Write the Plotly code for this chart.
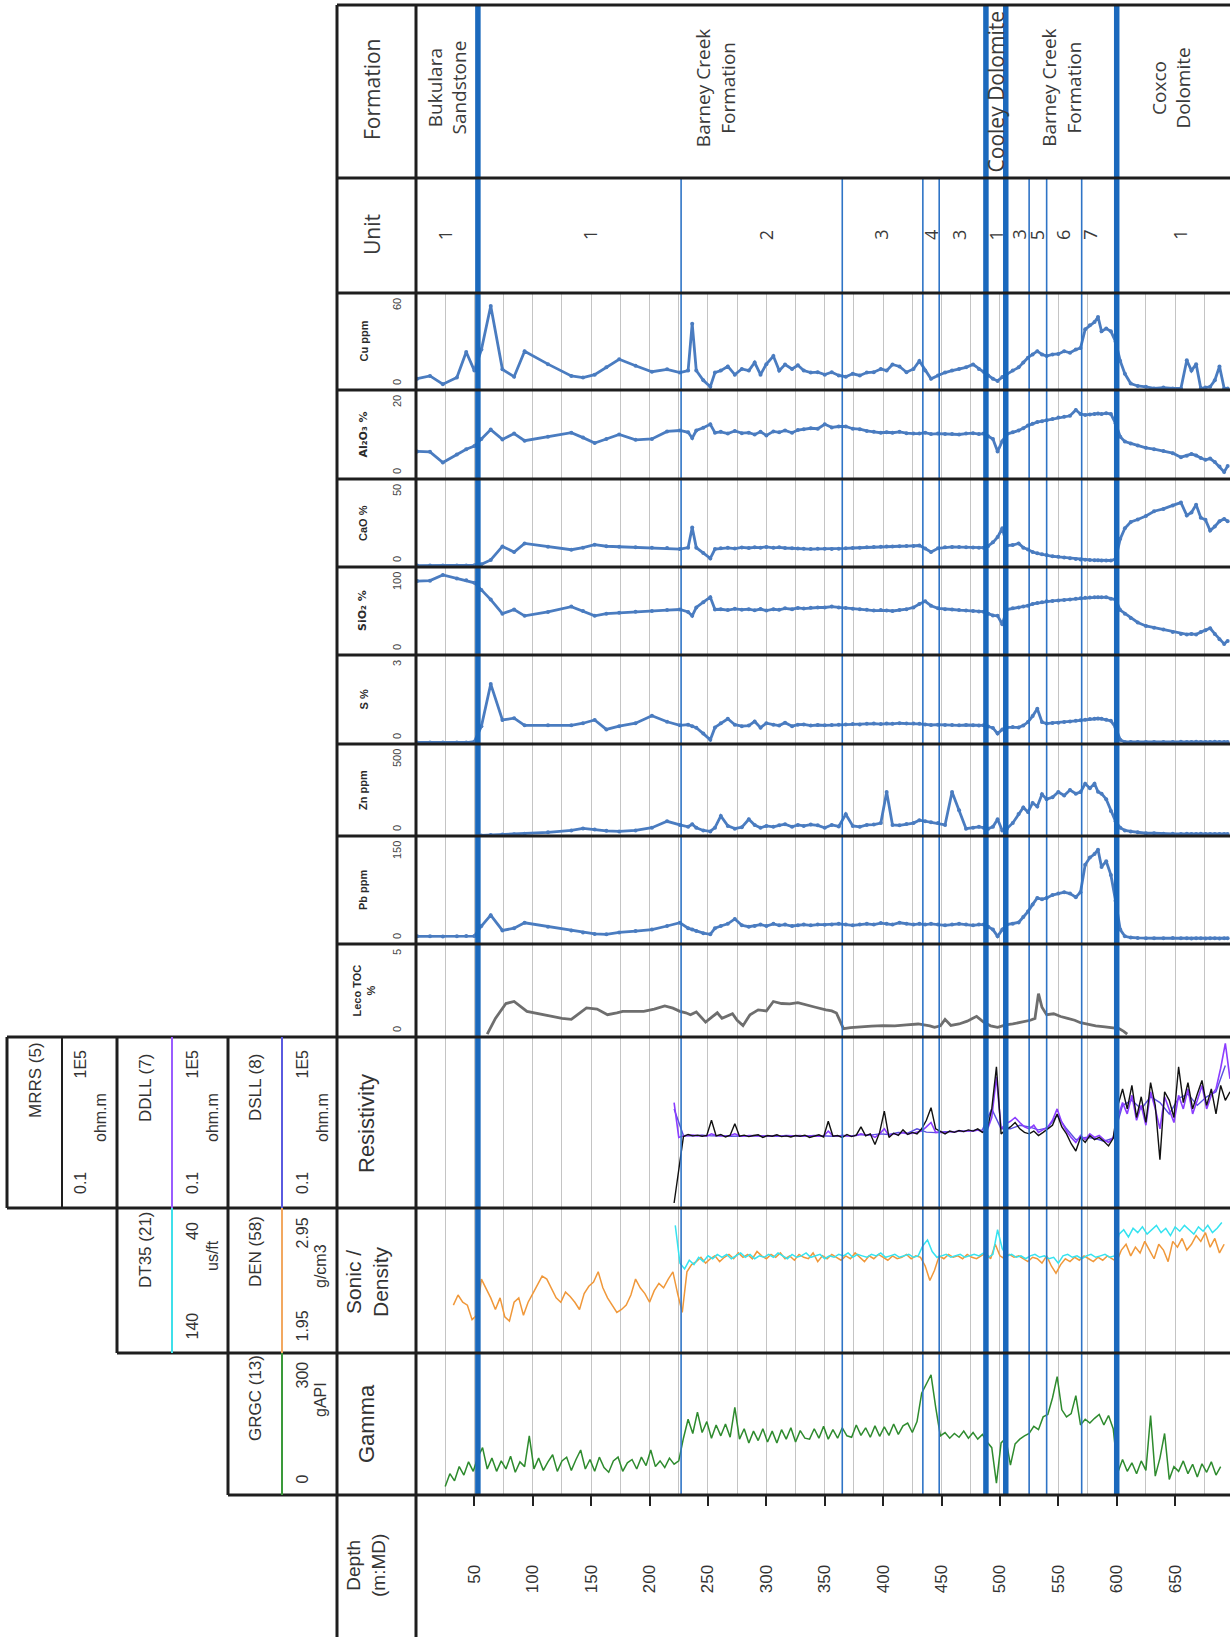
import plotly.graph_objects as go

W, H = 1230, 1637

# ------------------------------------------------------------------ data
depth_ticks = [50, 100, 150, 200, 250, 300, 350, 400, 450, 500, 550, 600, 650]
depth_tick_text = [str(v) for v in depth_ticks]

formation_tops = [53, 488, 505, 600]
unit_tops = [227, 365, 434, 448, 525, 540, 570]
formation_names = ["Bukulara<br>Sandstone", "Barney Creek<br>Formation", "Cooley Dolomite",
                   "Barney Creek<br>Formation", "Coxco<br>Dolomite"]
formation_label_depth = [27, 257, 497, 553, 647]
unit_names = ["1", "1", "2", "3", "4", "3", "1", "3", "5", "6", "7", "1"]
unit_label_depth = [25, 149, 300, 398, 441, 465, 497, 516, 532, 554, 577, 654]

# geochemistry samples (shared depths, m)
geo_depth = [1, 12, 23, 35, 43, 50, 56, 64, 74, 84,
             93, 113, 133, 143, 153, 163, 174, 188, 202, 215,
             226, 233, 236.5, 240, 246, 252, 256, 261, 267, 273,
             279, 285, 290, 295, 300, 306, 311, 316, 322, 327,
             332, 338, 344, 350, 356, 362, 368, 374, 380, 386,
             392, 398, 403, 408, 414, 420, 426, 431, 436, 441,
             447, 453, 459, 465, 471, 477, 482, 486, 490, 494,
             498, 502, 506, 511, 516, 520, 524, 528, 532, 536,
             540, 545, 550, 555, 560, 565, 569, 573, 577, 581,
             584, 587, 591, 595, 599, 603, 607, 612, 618, 625,
             632, 640, 648, 655, 660, 664, 668, 672, 676, 680,
             684, 688, 692, 695]
cu_ppm = [7, 8.7, 3.6, 7.7, 23.5, 12, 25, 52, 12.8, 8.2,
          24, 16, 8.7, 7.7, 9.5, 14, 19, 15, 11.3, 12.8,
          10.8, 12, 41, 12, 6, 2, 10.8, 12, 14.6, 9.5,
          13, 12, 17, 9.5, 16, 21, 12, 15.8, 13, 15.3,
          12, 10.8, 11, 9.5, 11, 9, 8.2, 10, 9, 10.8,
          11, 13, 12, 15.8, 14.6, 11, 13, 17.9, 12, 6.9,
          9, 10.8, 12, 13, 14, 15.8, 13, 11.3, 9, 7,
          5.6, 8, 10, 12, 14, 17, 20, 22, 24, 22,
          21, 22, 22.3, 24, 23, 25, 26, 37.5, 40, 42,
          45.2, 36.3, 38, 36.3, 30, 18, 10, 4, 2.5, 2,
          1, 1.5, 1, 1, 18.4, 12, 16, 1, 1.5, 2,
          6, 14.6, 1, 1]
al2o3_pct = [6.2, 6.1, 3.7, 5.5, 6.7, 7.4, 9, 11.1, 8.9, 10.2,
             8.6, 9.5, 10.4, 9.3, 8.1, 9, 10, 8.8, 9, 10.7,
             10.9, 10.5, 9.2, 10.9, 11.5, 12.3, 10.4, 10.6, 10.2, 10.8,
             10.3, 10.4, 10, 10.6, 9.8, 10.7, 10.5, 10.9, 10.4, 11,
             11.2, 11.4, 11.3, 12.3, 11.6, 11.8, 11.8, 11.3, 11.2, 10.8,
             10.6, 10.4, 10.5, 10.4, 10.6, 10.3, 10.2, 10.2, 10.4, 10.1,
             10.2, 10.1, 10.1, 10, 10.2, 10.3, 10.1, 10.2, 9.6, 9,
             6.2, 8.5, 10.1, 10.5, 10.9, 11.4, 12, 12.4, 12.8, 13,
             13.2, 13.5, 13.8, 14, 14.2, 15.5, 14.6, 14.4, 14.5, 14.6,
             14.7, 14.6, 14.8, 14.6, 12.5, 9.5, 8.4, 8, 7.5, 7,
             6.7, 6.3, 5.8, 4.9, 5.2, 5.6, 5.3, 4.7, 4.3, 4.6,
             3.8, 2.8, 1.6, 2.9]
cao_pct = [0.8, 0.8, 0.9, 0.8, 0.9, 1, 1.5, 4, 11.7, 8.5,
           13.4, 11.5, 9.8, 11, 12.7, 11.8, 11.5, 11.2, 11, 10.8,
           10.2, 11, 22.4, 11, 8, 4.9, 10.2, 10.6, 10.9, 10.5,
           11.1, 10.8, 11.2, 11, 11.4, 10.9, 11.2, 10.8, 10.6, 10.5,
           10.4, 10.2, 10.3, 10.3, 10.2, 10.4, 10.6, 10.8, 11, 11.2,
           11.4, 11.5, 11.6, 11.7, 11.8, 11.9, 12, 12.2, 10.5, 8.5,
           10.6, 11.2, 11.4, 11.3, 11.2, 11.1, 11, 11, 12, 14,
           17, 22, 12.2, 12.5, 13.4, 11, 10, 8.5, 7.8, 7.2,
           6.8, 6.1, 5.8, 5.4, 5, 4.6, 4.3, 4.1, 4, 3.9,
           3.8, 3.7, 3.7, 3.7, 4.5, 16, 22, 25.6, 27, 29,
           31.7, 33, 35, 36.6, 29.3, 31, 35.4, 28, 26.8, 20.7,
           23, 26, 27.3, 26]
sio2_pct = [84, 84.5, 91, 87, 85, 82, 74, 63, 47, 51.7,
            44.5, 49, 55, 50, 44.5, 47, 48, 49.2, 50, 51,
            51.7, 49, 44.5, 54, 60, 65.7, 51.7, 52, 51, 52.5,
            51.5, 52, 50.8, 52.2, 50.5, 52, 51.4, 53, 52, 53.5,
            52.8, 53.6, 54, 54, 55, 54, 53.5, 52.5, 52, 51.3,
            50.5, 51, 50.7, 50, 51, 52, 54, 58, 61, 56,
            53, 52, 51.7, 51, 50.5, 50, 49.5, 49.2, 47, 45,
            44.5, 35, 51.7, 53, 54, 55, 56, 58, 59, 60,
            61, 61.5, 62, 62.5, 63, 64, 64.5, 65, 65.3, 65.7,
            65.7, 65.5, 65.7, 64, 63, 51, 47, 42, 37, 33,
            31, 29, 26, 24, 23.4, 24, 23.4, 26, 28, 30.4,
            24, 18, 12.6, 16]
s_pct = [0.05, 0.05, 0.05, 0.05, 0.05, 0.08, 0.6, 2.02, 0.81, 0.87,
         0.63, 0.63, 0.63, 0.7, 0.81, 0.49, 0.6, 0.7, 0.95, 0.75,
         0.63, 0.65, 0.6, 0.55, 0.35, 0.14, 0.56, 0.7, 0.85, 0.65,
         0.6, 0.62, 0.76, 0.55, 0.7, 0.65, 0.62, 0.72, 0.6, 0.65,
         0.66, 0.62, 0.64, 0.63, 0.64, 0.65, 0.66, 0.67, 0.66, 0.68,
         0.69, 0.67, 0.69, 0.68, 0.7, 0.69, 0.69, 0.68, 0.66, 0.64,
         0.65, 0.64, 0.64, 0.63, 0.64, 0.63, 0.62, 0.63, 0.59, 0.54,
         0.35, 0.49, 0.56, 0.57, 0.56, 0.62, 0.74, 0.94, 1.19, 0.74,
         0.69, 0.71, 0.72, 0.74, 0.76, 0.78, 0.8, 0.82, 0.84, 0.85,
         0.86, 0.85, 0.82, 0.78, 0.56, 0.14, 0.07, 0.07, 0.07, 0.07,
         0.07, 0.07, 0.07, 0.08, 0.07, 0.07, 0.08, 0.07, 0.07, 0.07,
         0.08, 0.07, 0.07, 0.07]
zn_ppm = [None, None, None, None, None, None, 3, 5, 8, 10,
          12, 20, 30, 41, 35, 28, 25, 30, 45, 80,
          60, 50, 64, 45, 30, 25, 45, 109, 55, 40,
          48, 91, 60, 45, 55, 50, 58, 64, 50, 60,
          55, 62, 58, 45, 60, 52, 118, 55, 50, 60,
          62, 70, 239, 60, 58, 65, 70, 86, 80, 75,
          70, 60, 239, 140, 40, 45, 50, 45, 40, 50,
          91, 30, 40, 71, 120, 155, 130, 180, 160, 227,
          200, 210, 239, 220, 250, 230, 239, 284, 260, 284,
          240, 230, 200, 136, 80, 45, 30, 25, 20, 15,
          15, 12, 12, 11, 12, 11, 11, 12, 11, 11,
          11, 11, 11, 11]
pb_ppm = [10.7, 10.7, 10.5, 10.7, 11, 11, 25, 40, 18.8, 22,
          29.5, 24, 18.8, 16, 14, 13.4, 16, 18, 20, 25,
          29.5, 22, 20, 18, 15, 13.4, 22, 25, 28, 34.8,
          26, 24, 25, 27, 25, 28, 26, 27, 25, 26,
          27, 26, 27, 26.8, 27, 28, 27, 26, 27, 28,
          27, 29, 28, 27, 29.5, 28, 27, 28, 27, 28,
          27, 26, 27, 28, 27, 26, 27, 27, 24, 20,
          10.7, 20, 27, 28, 30, 37.5, 45, 55, 64, 62,
          64, 68, 70, 72, 70, 65, 72, 110, 120, 125,
          131, 107, 115, 96, 60, 20, 10.7, 9, 8.5, 8,
          8, 8, 8.5, 8, 8, 7.5, 8, 8, 7.5, 8,
          8, 7.5, 8, 8]

toc_depth = [61, 68, 77, 84, 95, 105, 115, 125, 133, 140,
             146, 155, 164, 172, 177, 186, 195, 204, 213, 220,
             226, 231, 235, 240, 245, 248, 253, 258, 262, 266,
             271, 275, 280, 286, 293, 300, 306, 313, 320, 327,
             335, 342, 351, 356, 360, 366, 372, 380, 390, 400,
             410, 420, 430, 440, 444, 449, 453, 458, 465, 472,
             480, 486, 492, 498, 505, 511, 518, 526, 530, 533,
             536, 540, 546, 552, 558, 564, 569, 575, 582, 590,
             596, 602, 606, 609]
toc_pct = [0.15, 1.0, 1.8, 1.91, 1.38, 1.25, 1.15, 1.0, 0.95, 1.3,
           1.56, 1.5, 1.2, 1.3, 1.38, 1.38, 1.38, 1.5, 1.67, 1.55,
           1.38, 1.3, 1.2, 1.35, 1.0, 0.8, 1.05, 1.3, 1.0, 1.11,
           1.25, 0.9, 0.61, 1.2, 1.46, 1.4, 1.91, 1.8, 1.78, 1.85,
           1.7, 1.6, 1.46, 1.4, 1.29, 0.45, 0.5, 0.55, 0.58, 0.61,
           0.6, 0.65, 0.7, 0.6, 0.52, 0.6, 0.95, 0.62, 0.7, 0.85,
           1.11, 0.8, 0.6, 0.52, 0.65, 0.7, 0.8, 0.9, 1.0, 2.33,
           1.6, 1.2, 1.25, 1.1, 1.0, 0.9, 0.77, 0.7, 0.6, 0.55,
           0.52, 0.45, 0.3, 0.15]

# resistivity logs (ohm.m), MRRS / DDLL sampled every 4 m from 221 m, DSLL every 8 m
res_start, res_step, dsll_step = 221, 4, 8
mrrs = [0.15, 2, 32, 38, 34, 36, 33, 35, 120, 34,
        38, 31, 36, 90, 33, 36, 32, 35, 37, 30,
        35, 33, 37, 32, 34, 31, 35, 33, 36, 30,
        34, 37, 31, 110, 33, 35, 30, 38, 32, 36,
        70, 34, 40, 17, 45, 250, 30, 42, 35, 55,
        38, 45, 40, 60, 120, 330, 60, 48, 40, 50,
        45, 52, 48, 55, 50, 60, 45, 55, 300, 9000,
        40, 55, 70, 100, 60, 45, 40, 50, 35, 45,
        60, 80, 200, 70, 40, 18, 10, 30, 20, 35,
        25, 30, 22, 15, 28, 400, 1500, 300, 2000, 150,
        800, 100, 2500, 400, 5, 1200, 600, 150, 9000, 500,
        2500, 300, 1000, 3000, 400, 1500, 200, 2000, 600, 1200]
ddll = [500, 30, 34, 35, 36, 34, 35, 33, 40, 35,
        34, 33, 35, 40, 34, 33, 35, 34, 33, 34,
        33, 34, 35, 33, 34, 33, 34, 35, 33, 34,
        35, 34, 33, 50, 34, 33, 35, 34, 33, 35,
        40, 36, 38, 30, 40, 60, 35, 40, 38, 45,
        40, 42, 45, 50, 70, 100, 45, 46, 44, 48,
        47, 50, 49, 52, 50, 55, 48, 52, 150, 4000,
        60, 90, 110, 150, 100, 70, 60, 80, 45, 55,
        70, 120, 300, 100, 50, 30, 20, 35, 25, 40,
        30, 35, 25, 20, 30, 150, 500, 200, 900, 120,
        400, 80, 1200, 300, 60, 800, 300, 100, 900, 300,
        1500, 200, 600, 2000, 300, 900, 1500, 8000, 60000, 3400]
dsll = [300, 35, 34, 36, 34, 35, 33, 34, 35, 34,
        34, 33, 35, 34, 33, 35, 34, 33, 35, 34,
        38, 36, 40, 38, 45, 42, 60, 46, 44, 48,
        48, 50, 52, 55, 300, 60, 60, 80, 70, 55,
        65, 180, 60, 25, 30, 28, 22, 28, 400, 600,
        300, 800, 500, 200, 700, 1000, 400, 800, 1200, 10000]

# sonic (us/ft) every 4 m from 222 m
dt_start = 222
dt35 = [52, 78, 82, 76, 79, 74, 77, 73, 75, 72,
        74, 72, 75, 73, 71, 74, 72, 75, 73, 74,
        72, 74, 71, 73, 75, 72, 74, 73, 71, 74,
        73, 72, 75, 73, 74, 72, 73, 71, 74, 72,
        73, 74, 72, 73, 71, 74, 73, 72, 74, 73,
        72, 74, 73, 66, 62, 70, 74, 73, 72, 74,
        73, 72, 74, 73, 72, 73, 71, 74, 72, 55,
        68, 73, 72, 74, 73, 75, 73, 72, 74, 73,
        75, 74, 78, 73, 72, 74, 73, 75, 73, 72,
        74, 73, 72, 74, 73, 58, 55, 60, 54, 57,
        53, 58, 55, 52, 57, 54, 59, 53, 56, 52,
        55, 58, 53, 56, 52, 57, 54, 50]

# density (g/cm3) every 4 m from 32 m
den_start = 32
den = [2.28, 2.35, 2.30, 2.28, 2.18, 2.21, 2.46, 2.40, 2.33, 2.25,
       2.33, 2.20, 2.17, 2.30, 2.33, 2.21, 2.30, 2.36, 2.42, 2.48,
       2.46, 2.40, 2.33, 2.30, 2.37, 2.34, 2.30, 2.25, 2.36, 2.41,
       2.44, 2.51, 2.40, 2.33, 2.28, 2.23, 2.25, 2.28, 2.35, 2.46,
       2.40, 2.36, 2.30, 2.38, 2.43, 2.40, 2.46, 2.51, 2.36, 2.23,
       2.51, 2.56, 2.58, 2.61, 2.57, 2.60, 2.62, 2.58, 2.61, 2.63,
       2.60, 2.64, 2.61, 2.63, 2.60, 2.65, 2.62, 2.60, 2.63, 2.61,
       2.64, 2.60, 2.62, 2.59, 2.63, 2.61, 2.60, 2.64, 2.58, 2.62,
       2.60, 2.63, 2.61, 2.59, 2.62, 2.60, 2.64, 2.61, 2.58, 2.62,
       2.60, 2.63, 2.61, 2.59, 2.62, 2.60, 2.61, 2.63, 2.60, 2.62,
       2.61, 2.55, 2.45, 2.52, 2.62, 2.60, 2.63, 2.61, 2.62, 2.60,
       2.63, 2.61, 2.60, 2.62, 2.64, 2.60, 2.70, 2.62, 2.60, 2.63,
       2.61, 2.62, 2.60, 2.58, 2.61, 2.60, 2.57, 2.62, 2.55, 2.50,
       2.56, 2.60, 2.58, 2.61, 2.59, 2.62, 2.60, 2.58, 2.61, 2.59,
       2.62, 2.60, 2.58, 2.66, 2.70, 2.62, 2.68, 2.64, 2.72, 2.66,
       2.60, 2.70, 2.66, 2.58, 2.72, 2.68, 2.74, 2.66, 2.70, 2.76,
       2.72, 2.78, 2.68, 2.74, 2.64, 2.70]

# gamma (gAPI) every 4 m from 25 m
gr_start = 25
grgc = [18, 45, 30, 60, 42, 70, 50, 80, 100, 55,
        78, 50, 72, 55, 82, 48, 70, 60, 125, 55,
        78, 52, 70, 85, 50, 72, 80, 52, 75, 95,
        55, 75, 50, 80, 58, 48, 72, 80, 50, 68,
        75, 55, 80, 62, 95, 60, 72, 58, 78, 65,
        72, 120, 160, 130, 175, 132, 155, 120, 148, 125,
        150, 122, 185, 118, 140, 110, 135, 115, 140, 112,
        135, 110, 138, 118, 142, 112, 136, 120, 118, 140,
        120, 145, 118, 138, 120, 142, 125, 122, 148, 126,
        142, 122, 146, 124, 144, 126, 150, 128, 146, 152,
        132, 155, 215, 235, 254, 185, 125, 132, 120, 130,
        122, 135, 120, 132, 118, 128, 112, 100, 25, 110,
        120, 63, 108, 118, 125, 130, 145, 138, 165, 170,
        205, 250, 180, 165, 172, 210, 148, 160, 152, 162,
        170, 148, 168, 140, 48, 75, 50, 68, 45, 72,
        52, 168, 40, 78, 130, 33, 60, 50, 72, 45,
        65, 38, 66, 48, 70, 42, 60]

res_depth = [res_start + res_step * i for i in range(len(mrrs))]
dsll_depth = [res_start + dsll_step * i for i in range(len(dsll))]
dt_depth = [dt_start + 4 * i for i in range(len(dt35))]
den_depth = [den_start + 4 * i for i in range(len(den))]
gr_depth = [gr_start + 4 * i for i in range(len(grgc))]

geo_labels = ["Cu ppm", "Al\u2082O\u2083 %", "CaO %", "SiO\u2082 %",
              "S %", "Zn ppm", "Pb ppm", "Leco TOC<br>%"]
geo_max = [60, 20, 50, 100, 3, 500, 150, 5]

# ------------------------------------------------------------------ layout helpers
def X(p):
    return p / W


def Y(p):
    return 1 - p / H


# track rows in pixels (top, bottom)
ROWS = [(293, 390), (390, 479), (479, 567), (567, 655), (655, 744), (744, 836),
        (836, 944), (944, 1037), (1037, 1208), (1208, 1353), (1353, 1495)]
TABLE_L, LABEL_R, TABLE_T = 337, 416, 5
GEO_BLUE = "#4a7cc0"
BND_BLUE = "#1b69bd"
FRAME = "#1e1e1e"
SANS = "Liberation Sans, Arial, sans-serif"
SEGOE = "Open Sans, sans-serif"

fig = go.Figure()

geo_series = [cu_ppm, al2o3_pct, cao_pct, sio2_pct, s_pct, zn_ppm, pb_ppm]
for i, vals in enumerate(geo_series):
    fig.add_trace(go.Scatter(x=geo_depth, y=vals, mode="lines+markers",
                             line=dict(color=GEO_BLUE, width=2.8),
                             marker=dict(size=4, color=GEO_BLUE),
                             yaxis="y" if i == 0 else f"y{i + 1}", showlegend=False))
fig.add_trace(go.Scatter(x=toc_depth, y=toc_pct, mode="lines",
                         line=dict(color="#6e6e6e", width=2.8), yaxis="y8", showlegend=False))
fig.add_trace(go.Scatter(x=dsll_depth, y=dsll, mode="lines",
                         line=dict(color="#5a4fe0", width=1.4), yaxis="y9", showlegend=False))
fig.add_trace(go.Scatter(x=res_depth, y=ddll, mode="lines",
                         line=dict(color="#8b3dff", width=1.6), yaxis="y9", showlegend=False))
fig.add_trace(go.Scatter(x=res_depth, y=mrrs, mode="lines",
                         line=dict(color="#111111", width=1.4), yaxis="y9", showlegend=False))
fig.add_trace(go.Scatter(x=den_depth, y=den, mode="lines",
                         line=dict(color="#f0983a", width=1.5), yaxis="y10", showlegend=False))
fig.add_trace(go.Scatter(x=dt_depth, y=dt35, mode="lines",
                         line=dict(color="#35e3f0", width=1.5), yaxis="y11", showlegend=False))
fig.add_trace(go.Scatter(x=gr_depth, y=grgc, mode="lines",
                         line=dict(color="#2e8b2e", width=1.5), yaxis="y12", showlegend=False))

layout = dict(
    width=W, height=H, autosize=False,
    margin=dict(l=0, r=0, t=0, b=0),
    paper_bgcolor="white", plot_bgcolor="white",
    showlegend=False,
    xaxis=dict(domain=[X(LABEL_R), 1], range=[0, 697], anchor="y12",
               tickmode="array", tickvals=depth_ticks, ticktext=depth_tick_text,
               ticks="outside", ticklen=10, tickwidth=2, tickcolor="#222",
               tickangle=-90, ticklabelstandoff=52,
               tickfont=dict(family=SANS, size=17, color="#333"),
               showgrid=True, gridcolor="#c4c4c4", gridwidth=1,
               minor=dict(tick0=0, dtick=25, showgrid=True, gridcolor="#c4c4c4",
                          gridwidth=1, ticks=""),
               zeroline=False, showline=False, fixedrange=True),
)
ranges = [[0, 60], [0, 20], [0, 50], [0, 100], [0, 3], [0, 500], [0, 150], [0, 5],
          [-1, 5], [1.95, 2.95], None, [0, 300]]
row_for_axis = [0, 1, 2, 3, 4, 5, 6, 7, 8, 9, 9, 10]
for k in range(12):
    name = "yaxis" if k == 0 else f"yaxis{k + 1}"
    top, bot = ROWS[row_for_axis[k]]
    ax = dict(domain=[Y(bot), Y(top)], anchor="x", showgrid=False, zeroline=False,
              showticklabels=False, ticks="", showline=False, fixedrange=True)
    if k == 8:
        ax.update(type="log", range=[-1, 5])
    elif k == 10:
        ax = dict(overlaying="y10", range=[140, 40], showgrid=False, zeroline=False,
                  showticklabels=False, ticks="", visible=False, fixedrange=True)
    else:
        ax.update(range=ranges[k])
    layout[name] = ax
fig.update_layout(**layout)

shapes = []


def line(x0, y0, x1, y1, color=FRAME, width=3, xref="paper"):
    shapes.append(dict(type="line", xref=xref, yref="paper", x0=x0, x1=x1,
                       y0=y0, y1=y1, line=dict(color=color, width=width), layer="above"))


# formation / unit boundaries (depth based)
for d in unit_tops:
    line(d, Y(178), d, Y(1495), color="#2f74c6", width=1.6, xref="x")
for d in formation_tops:
    line(d, Y(TABLE_T), d, Y(1495), color=BND_BLUE, width=5.5, xref="x")

# main table frame
for yy in [TABLE_T, 178] + [r[0] for r in ROWS] + [1495]:
    line(X(TABLE_L), Y(yy), 1, Y(yy))
line(X(TABLE_L), Y(TABLE_T), X(TABLE_L), 0)
line(X(LABEL_R), Y(TABLE_T), X(LABEL_R), 0)

# left curve-header blocks
line(X(7), Y(1037), X(TABLE_L), Y(1037))
line(X(7), Y(1208), X(TABLE_L), Y(1208))
line(X(117), Y(1353), X(TABLE_L), Y(1353))
line(X(228), Y(1495), X(TABLE_L), Y(1495))
line(X(7), Y(1037), X(7), Y(1208))
line(X(62), Y(1037), X(62), Y(1208), width=2)
line(X(117), Y(1037), X(117), Y(1353))
line(X(228), Y(1037), X(228), Y(1495))
line(X(172), Y(1037), X(172), Y(1208), color="#9a5cff", width=2)
line(X(172), Y(1208), X(172), Y(1353), color="#3fe0ea", width=2)
line(X(282), Y(1037), X(282), Y(1208), color="#5a5ae0", width=2)
line(X(282), Y(1208), X(282), Y(1353), color="#f2a860", width=2)
line(X(282), Y(1353), X(282), Y(1495), color="#3a9a3a", width=2)

fig.update_layout(shapes=shapes)

anns = []


def text(t, x, y, size, color="#333", family=SANS, xanchor="center", yanchor="middle",
         xref="paper", angle=-90):
    anns.append(dict(text=t, x=x, y=y, xref=xref, yref="paper", showarrow=False,
                     textangle=angle, xanchor=xanchor, yanchor=yanchor,
                     font=dict(family=family, size=size, color=color)))


# formation + unit rows
text("Formation", X(372), Y(90), 21, family=SEGOE, color="#3a3a3a")
text("Unit", X(372), Y(235), 21, family=SEGOE, color="#3a3a3a")
for name, d in zip(formation_names, formation_label_depth):
    two = "<br>" in name
    text(name, d, Y(88 if two else 92), 19 if two else 21,
         family=SEGOE, color="#3a3a3a", xref="x")
for name, d in zip(unit_names, unit_label_depth):
    text(name, d, Y(235), 18, family=SEGOE, color="#3a3a3a", xref="x")

# geochem headers
for i, (lab, vmax) in enumerate(zip(geo_labels, geo_max)):
    top, bot = ROWS[i]
    text("<b>" + lab + "</b>", X(363), Y((top + bot) / 2), 11, color="#2a2a2a",
         family="DejaVu Sans, sans-serif" if "\u2082" in lab else SANS)
    text(str(vmax), X(397), Y(top + 3), 11, color="#444", yanchor="top")
    text("0", X(397), Y(bot - 3), 11, color="#444", yanchor="bottom")

# log track headers
text("Resistivity", X(366), Y(1124), 22)
text("Sonic /<br>Density", X(367), Y(1282), 21)
text("Gamma", X(366), Y(1424), 22)
text("Depth<br>(m:MD)", X(366), Y(1566), 19)

text("MRRS (5)", X(35), Y(1080), 17)
text("DDLL (7)", X(145), Y(1088), 17)
text("DSLL (8)", X(255), Y(1088), 17)
for xc in (80, 192, 302):
    text("0.1", X(xc), Y(1196), 16, yanchor="bottom")
    text("1E5", X(xc), Y(1048), 16, yanchor="top")
    text("ohm.m", X(xc + 20), Y(1118), 16)
text("DT35 (21)", X(145), Y(1250), 17)
text("140", X(192), Y(1342), 16, yanchor="bottom")
text("40", X(192), Y(1220), 16, yanchor="top")
text("us/ft", X(212), Y(1256), 16)
text("DEN (58)", X(255), Y(1252), 17)
text("1.95", X(302), Y(1344), 16, yanchor="bottom")
text("2.95", X(302), Y(1216), 16, yanchor="top")
text("g/cm3", X(320), Y(1266), 16)
text("GRGC (13)", X(255), Y(1398), 17)
text("0", X(302), Y(1486), 16, yanchor="bottom")
text("300", X(302), Y(1360), 16, yanchor="top")
text("gAPI", X(320), Y(1400), 16)

fig.update_layout(annotations=anns)
fig.write_html("out.html")
